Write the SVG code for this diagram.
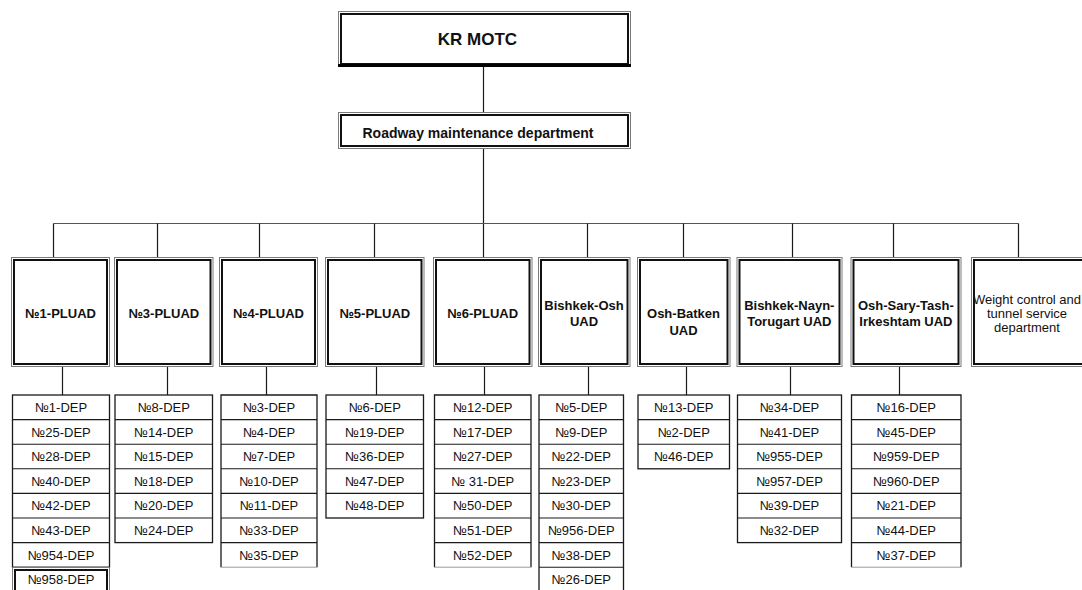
<svg xmlns="http://www.w3.org/2000/svg" width="1082" height="590" viewBox="0 0 1082 590">
  <style>
    .frame-out { fill: #fff; stroke: #7a7a7a; stroke-width: 1; }
    .frame-in { fill: none; stroke: #111; stroke-width: 2; }
    .tbl { fill: #fff; stroke: #1a1a1a; stroke-width: 1.3; }
    .sep { stroke: #1a1a1a; stroke-width: 1.1; }
    .faint { stroke: #9a9a9a; stroke-width: 1; }
    .link { stroke: #1a1a1a; stroke-width: 1.2; fill: none; }
    .bus { stroke: #555; stroke-width: 1.2; fill: none; }
    text { font-family: "Liberation Sans", Arial, sans-serif; fill: #111; text-anchor: middle; }
    .h1 { font-size: 17px; font-weight: bold; }
    .h2 { font-size: 14px; font-weight: bold; }
    .hb { font-size: 13px; font-weight: bold; }
    .hn { font-size: 13px; }
    .dep { font-size: 13px; }
  </style>

  <!-- connectors -->
  <g id="connectors">
    <line class="link" x1="483.5" y1="66" x2="483.5" y2="113"/>
    <line class="link" x1="483.5" y1="148" x2="483.5" y2="257"/>
    <line class="bus" x1="53.5" y1="223.5" x2="1018.5" y2="223.5"/>
    <line class="link" x1="53.5" y1="223.5" x2="53.5" y2="257"/>
    <line class="link" x1="157.5" y1="223.5" x2="157.5" y2="257"/>
    <line class="link" x1="259.5" y1="223.5" x2="259.5" y2="257"/>
    <line class="link" x1="374.5" y1="223.5" x2="374.5" y2="257"/>
    <line class="link" x1="587.5" y1="223.5" x2="587.5" y2="257"/>
    <line class="link" x1="683.5" y1="223.5" x2="683.5" y2="257"/>
    <line class="link" x1="792.5" y1="223.5" x2="792.5" y2="257"/>
    <line class="link" x1="893.5" y1="223.5" x2="893.5" y2="257"/>
    <line class="link" x1="1018.5" y1="223.5" x2="1018.5" y2="257"/>
    <line class="link" x1="62.5" y1="367" x2="62.5" y2="395"/>
    <line class="link" x1="167.5" y1="367" x2="167.5" y2="395"/>
    <line class="link" x1="266.5" y1="367" x2="266.5" y2="395"/>
    <line class="link" x1="376.5" y1="367" x2="376.5" y2="395"/>
    <line class="link" x1="484.5" y1="367" x2="484.5" y2="395"/>
    <line class="link" x1="588.5" y1="367" x2="588.5" y2="395"/>
    <line class="link" x1="686.5" y1="367" x2="686.5" y2="395"/>
    <line class="link" x1="790.5" y1="367" x2="790.5" y2="395"/>
    <line class="link" x1="899.5" y1="367" x2="899.5" y2="395"/>
  </g>

  <!-- top level -->
  <g id="kr-motc">
    <rect class="frame-out" x="338.5" y="11.5" width="292" height="55"/>
    <rect class="frame-in" x="341" y="14" width="287" height="50"/>
    <line x1="338" y1="65.5" x2="631" y2="65.5" stroke="#000" stroke-width="3"/>
    <text class="h1" x="477.5" y="45">KR MOTC</text>
  </g>

  <g id="roadway-dept">
    <rect class="frame-out" x="338.5" y="112.5" width="292" height="36"/>
    <rect class="frame-in" x="341" y="115" width="287" height="31"/>
    <text class="h2" x="478" y="138">Roadway maintenance department</text>
  </g>

  <!-- regional units -->
  <g id="pluad-1">
    <rect class="frame-out" x="11.5" y="257.5" width="98" height="109"/>
    <rect class="frame-in" x="14" y="260" width="93" height="104"/>
    <text class="hb" x="60.5" y="317.5">№1-PLUAD</text>
  </g>
  <g id="pluad-3">
    <rect class="frame-out" x="114.5" y="257.5" width="98.5" height="109"/>
    <rect class="frame-in" x="117" y="260" width="93.5" height="104"/>
    <text class="hb" x="163.8" y="317.5">№3-PLUAD</text>
  </g>
  <g id="pluad-4">
    <rect class="frame-out" x="219.5" y="257.5" width="98" height="109"/>
    <rect class="frame-in" x="222" y="260" width="93" height="104"/>
    <text class="hb" x="268.5" y="317.5">№4-PLUAD</text>
  </g>
  <g id="pluad-5">
    <rect class="frame-out" x="325.5" y="257.5" width="98.5" height="109"/>
    <rect class="frame-in" x="328" y="260" width="93.5" height="104"/>
    <text class="hb" x="374.8" y="317.5">№5-PLUAD</text>
  </g>
  <g id="pluad-6">
    <rect class="frame-out" x="433.5" y="257.5" width="98.5" height="109"/>
    <rect class="frame-in" x="436" y="260" width="93.5" height="104"/>
    <text class="hb" x="482.7" y="317.5">№6-PLUAD</text>
  </g>
  <g id="uad-bishkek-osh">
    <rect class="frame-out" x="538.5" y="257.5" width="91.5" height="109"/>
    <rect class="frame-in" x="541" y="260" width="86.5" height="104"/>
    <text class="hb" x="584" y="309.7">Bishkek-Osh</text>
    <text class="hb" x="584" y="326.3">UAD</text>
  </g>
  <g id="uad-osh-batken">
    <rect class="frame-out" x="637.5" y="257.5" width="92.5" height="109"/>
    <rect class="frame-in" x="640" y="260" width="87.5" height="104"/>
    <text class="hb" x="683.5" y="318">Osh-Batken</text>
    <text class="hb" x="683.5" y="335.3">UAD</text>
  </g>
  <g id="uad-bishkek-nayn-torugart">
    <rect class="frame-out" x="737" y="257.5" width="105" height="109"/>
    <rect class="frame-in" x="739.5" y="260" width="100" height="104"/>
    <text class="hb" x="789.3" y="309.7">Bishkek-Nayn-</text>
    <text class="hb" x="789.3" y="326.3">Torugart UAD</text>
  </g>
  <g id="uad-osh-sary-tash-irkeshtam">
    <rect class="frame-out" x="851" y="257.5" width="110" height="109"/>
    <rect class="frame-in" x="853.5" y="260" width="105" height="104"/>
    <text class="hb" x="905.9" y="309.7">Osh-Sary-Tash-</text>
    <text class="hb" x="905.9" y="326.3">Irkeshtam UAD</text>
  </g>
  <g id="weight-tunnel-dept">
    <rect class="frame-out" x="971.5" y="257.5" width="114" height="109"/>
    <rect class="frame-in" x="974" y="260" width="109" height="104"/>
    <text class="hn" x="1027" y="304">Weight control and</text>
    <text class="hn" x="1027" y="318">tunnel service</text>
    <text class="hn" x="1027" y="332">department</text>
  </g>

  <!-- road maintenance units -->
  <g id="deps-pluad-1">
    <rect class="tbl" x="12.5" y="395" width="97" height="172.2"/>
    <line class="sep" x1="12.5" y1="419.6" x2="109.5" y2="419.6"/>
    <line class="sep" x1="12.5" y1="444.2" x2="109.5" y2="444.2"/>
    <line class="sep" x1="12.5" y1="468.8" x2="109.5" y2="468.8"/>
    <line class="sep" x1="12.5" y1="493.4" x2="109.5" y2="493.4"/>
    <line class="sep" x1="12.5" y1="518" x2="109.5" y2="518"/>
    <line class="sep" x1="12.5" y1="542.6" x2="109.5" y2="542.6"/>
    <text class="dep" x="61" y="412">№1-DEP</text>
    <text class="dep" x="61" y="436.6">№25-DEP</text>
    <text class="dep" x="61" y="461.2">№28-DEP</text>
    <text class="dep" x="61" y="485.8">№40-DEP</text>
    <text class="dep" x="61" y="510.4">№42-DEP</text>
    <text class="dep" x="61" y="535">№43-DEP</text>
    <text class="dep" x="61" y="559.6">№954-DEP</text>
    <rect class="frame-out" x="12.5" y="567.5" width="97" height="30"/>
    <rect class="frame-in" x="15" y="570" width="92" height="25"/>
    <text class="dep" x="61" y="584.2">№958-DEP</text>
  </g>

  <g id="deps-pluad-3">
    <rect class="tbl" x="115" y="395" width="97.5" height="147.6"/>
    <line class="sep" x1="115" y1="419.6" x2="212.5" y2="419.6"/>
    <line class="sep" x1="115" y1="444.2" x2="212.5" y2="444.2"/>
    <line class="sep" x1="115" y1="468.8" x2="212.5" y2="468.8"/>
    <line class="sep" x1="115" y1="493.4" x2="212.5" y2="493.4"/>
    <line class="sep" x1="115" y1="518" x2="212.5" y2="518"/>
    <text class="dep" x="163.75" y="412">№8-DEP</text>
    <text class="dep" x="163.75" y="436.6">№14-DEP</text>
    <text class="dep" x="163.75" y="461.2">№15-DEP</text>
    <text class="dep" x="163.75" y="485.8">№18-DEP</text>
    <text class="dep" x="163.75" y="510.4">№20-DEP</text>
    <text class="dep" x="163.75" y="535">№24-DEP</text>
  </g>

  <g id="deps-pluad-4">
    <path class="tbl" d="M221 567.2 V395 H317 V567.2"/>
    <line class="faint" x1="221" y1="567.2" x2="317" y2="567.2"/>
    <line class="sep" x1="221" y1="419.6" x2="317" y2="419.6"/>
    <line class="sep" x1="221" y1="444.2" x2="317" y2="444.2"/>
    <line class="sep" x1="221" y1="468.8" x2="317" y2="468.8"/>
    <line class="sep" x1="221" y1="493.4" x2="317" y2="493.4"/>
    <line class="sep" x1="221" y1="518" x2="317" y2="518"/>
    <line class="sep" x1="221" y1="542.6" x2="317" y2="542.6"/>
    <text class="dep" x="269" y="412">№3-DEP</text>
    <text class="dep" x="269" y="436.6">№4-DEP</text>
    <text class="dep" x="269" y="461.2">№7-DEP</text>
    <text class="dep" x="269" y="485.8">№10-DEP</text>
    <text class="dep" x="269" y="510.4">№11-DEP</text>
    <text class="dep" x="269" y="535">№33-DEP</text>
    <text class="dep" x="269" y="559.6">№35-DEP</text>
  </g>

  <g id="deps-pluad-5">
    <rect class="tbl" x="326" y="395" width="97.5" height="123"/>
    <line class="sep" x1="326" y1="419.6" x2="423.5" y2="419.6"/>
    <line class="sep" x1="326" y1="444.2" x2="423.5" y2="444.2"/>
    <line class="sep" x1="326" y1="468.8" x2="423.5" y2="468.8"/>
    <line class="sep" x1="326" y1="493.4" x2="423.5" y2="493.4"/>
    <text class="dep" x="374.75" y="412">№6-DEP</text>
    <text class="dep" x="374.75" y="436.6">№19-DEP</text>
    <text class="dep" x="374.75" y="461.2">№36-DEP</text>
    <text class="dep" x="374.75" y="485.8">№47-DEP</text>
    <text class="dep" x="374.75" y="510.4">№48-DEP</text>
  </g>

  <g id="deps-pluad-6">
    <path class="tbl" d="M434.5 567.2 V395 H531 V567.2"/>
    <line class="faint" x1="434.5" y1="567.2" x2="531" y2="567.2"/>
    <line class="sep" x1="434.5" y1="419.6" x2="531" y2="419.6"/>
    <line class="sep" x1="434.5" y1="444.2" x2="531" y2="444.2"/>
    <line class="sep" x1="434.5" y1="468.8" x2="531" y2="468.8"/>
    <line class="sep" x1="434.5" y1="493.4" x2="531" y2="493.4"/>
    <line class="sep" x1="434.5" y1="518" x2="531" y2="518"/>
    <line class="sep" x1="434.5" y1="542.6" x2="531" y2="542.6"/>
    <text class="dep" x="482.75" y="412">№12-DEP</text>
    <text class="dep" x="482.75" y="436.6">№17-DEP</text>
    <text class="dep" x="482.75" y="461.2">№27-DEP</text>
    <text class="dep" x="482.75" y="485.8">№ 31-DEP</text>
    <text class="dep" x="482.75" y="510.4">№50-DEP</text>
    <text class="dep" x="482.75" y="535">№51-DEP</text>
    <text class="dep" x="482.75" y="559.6">№52-DEP</text>
  </g>

  <g id="deps-bishkek-osh">
    <rect class="tbl" x="539" y="395" width="84.5" height="200"/>
    <line class="sep" x1="539" y1="419.6" x2="623.5" y2="419.6"/>
    <line class="sep" x1="539" y1="444.2" x2="623.5" y2="444.2"/>
    <line class="sep" x1="539" y1="468.8" x2="623.5" y2="468.8"/>
    <line class="sep" x1="539" y1="493.4" x2="623.5" y2="493.4"/>
    <line class="sep" x1="539" y1="518" x2="623.5" y2="518"/>
    <line class="sep" x1="539" y1="542.6" x2="623.5" y2="542.6"/>
    <line class="sep" x1="539" y1="567.2" x2="623.5" y2="567.2"/>
    <text class="dep" x="581.25" y="412">№5-DEP</text>
    <text class="dep" x="581.25" y="436.6">№9-DEP</text>
    <text class="dep" x="581.25" y="461.2">№22-DEP</text>
    <text class="dep" x="581.25" y="485.8">№23-DEP</text>
    <text class="dep" x="581.25" y="510.4">№30-DEP</text>
    <text class="dep" x="581.25" y="535">№956-DEP</text>
    <text class="dep" x="581.25" y="559.6">№38-DEP</text>
    <text class="dep" x="581.25" y="584.2">№26-DEP</text>
  </g>

  <g id="deps-osh-batken">
    <rect class="tbl" x="638" y="395" width="91.5" height="73.8"/>
    <line class="sep" x1="638" y1="419.6" x2="729.5" y2="419.6"/>
    <line class="sep" x1="638" y1="444.2" x2="729.5" y2="444.2"/>
    <text class="dep" x="683.75" y="412">№13-DEP</text>
    <text class="dep" x="683.75" y="436.6">№2-DEP</text>
    <text class="dep" x="683.75" y="461.2">№46-DEP</text>
  </g>

  <g id="deps-bishkek-nayn-torugart">
    <rect class="tbl" x="737.5" y="395" width="104" height="147.6"/>
    <line class="sep" x1="737.5" y1="419.6" x2="841.5" y2="419.6"/>
    <line class="sep" x1="737.5" y1="444.2" x2="841.5" y2="444.2"/>
    <line class="sep" x1="737.5" y1="468.8" x2="841.5" y2="468.8"/>
    <line class="sep" x1="737.5" y1="493.4" x2="841.5" y2="493.4"/>
    <line class="sep" x1="737.5" y1="518" x2="841.5" y2="518"/>
    <text class="dep" x="789.5" y="412">№34-DEP</text>
    <text class="dep" x="789.5" y="436.6">№41-DEP</text>
    <text class="dep" x="789.5" y="461.2">№955-DEP</text>
    <text class="dep" x="789.5" y="485.8">№957-DEP</text>
    <text class="dep" x="789.5" y="510.4">№39-DEP</text>
    <text class="dep" x="789.5" y="535">№32-DEP</text>
  </g>

  <g id="deps-osh-sary-tash-irkeshtam">
    <path class="tbl" d="M851.5 567.2 V395 H961 V567.2"/>
    <line class="faint" x1="851.5" y1="567.2" x2="961" y2="567.2"/>
    <line class="sep" x1="851.5" y1="419.6" x2="961" y2="419.6"/>
    <line class="sep" x1="851.5" y1="444.2" x2="961" y2="444.2"/>
    <line class="sep" x1="851.5" y1="468.8" x2="961" y2="468.8"/>
    <line class="sep" x1="851.5" y1="493.4" x2="961" y2="493.4"/>
    <line class="sep" x1="851.5" y1="518" x2="961" y2="518"/>
    <line class="sep" x1="851.5" y1="542.6" x2="961" y2="542.6"/>
    <text class="dep" x="906.25" y="412">№16-DEP</text>
    <text class="dep" x="906.25" y="436.6">№45-DEP</text>
    <text class="dep" x="906.25" y="461.2">№959-DEP</text>
    <text class="dep" x="906.25" y="485.8">№960-DEP</text>
    <text class="dep" x="906.25" y="510.4">№21-DEP</text>
    <text class="dep" x="906.25" y="535">№44-DEP</text>
    <text class="dep" x="906.25" y="559.6">№37-DEP</text>
  </g>
</svg>
